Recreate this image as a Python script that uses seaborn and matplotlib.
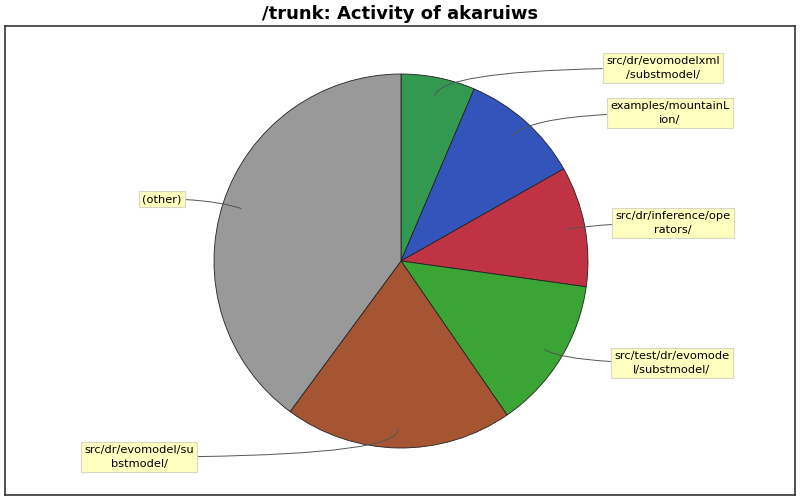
import matplotlib
matplotlib.use("Agg")
import matplotlib.pyplot as plt
import seaborn as sns
import numpy as np

# directories and their share of activity (clockwise from the top)
dirs = [
    "src/dr/evomodelxml\n/substmodel/",
    "examples/mountainL\nion/",
    "src/dr/inference/ope\nrators/",
    "src/test/dr/evomode\nl/substmodel/",
    "src/dr/evomodel/su\nbstmodel/",
    "(other)",
]
share = [6.4, 10.4, 10.4, 13.2, 19.7, 39.9]
colors = ["#339950", "#3355bb", "#c03344", "#3aa535", "#a65533", "#999999"]

# label box positions (pixel-like layout coords, y measured up from bottom)
label_pos = [(663, 432), (670, 387), (673, 277), (672, 137), (139, 43), (162, 301)]

sns.set_theme(style="white")
plt.rcParams["font.family"] = ["DejaVu Sans"]

fig = plt.figure(figsize=(8, 5), dpi=100)
ax = fig.add_axes([5 / 800, 5 / 500, 790 / 800, 469 / 500])

cx, cy, r = 401, 239, 187
wedges, _ = ax.pie(share, colors=colors, startangle=90, counterclock=False,
                   center=(cx, cy), radius=r, frame=True,
                   wedgeprops=dict(edgecolor="#222222", linewidth=0.6))
ax.set_xlim(5, 795)
ax.set_ylim(5, 474)
ax.set_aspect("equal")
ax.set_xticks([])
ax.set_yticks([])
for s in ax.spines.values():
    s.set_color("#333333")
    s.set_linewidth(1.2)

for w, lab, pos in zip(wedges, dirs, label_pos):
    mid_deg = (w.theta1 + w.theta2) / 2
    mid = np.deg2rad(mid_deg)
    pt = (cx + 0.9 * r * np.cos(mid), cy + 0.9 * r * np.sin(mid))
    ax.annotate(lab, xy=pt, xytext=pos, ha="center", va="center",
                fontsize=8.2, color="#000000", linespacing=1.4,
                bbox=dict(boxstyle="square,pad=0.3", fc="#ffffc0", ec="#d8d8c0", lw=0.8),
                arrowprops=dict(arrowstyle="-", color="#555555", lw=0.7,
                                shrinkA=0, shrinkB=0,
                                connectionstyle=f"angle3,angleA=0,angleB={mid_deg:.1f}"))

fig.text(0.5, 0.972, "/trunk: Activity of akaruiws", ha="center", va="center",
         fontsize=13, fontweight="bold", color="#000000")

fig.savefig("out.png", dpi=100)
